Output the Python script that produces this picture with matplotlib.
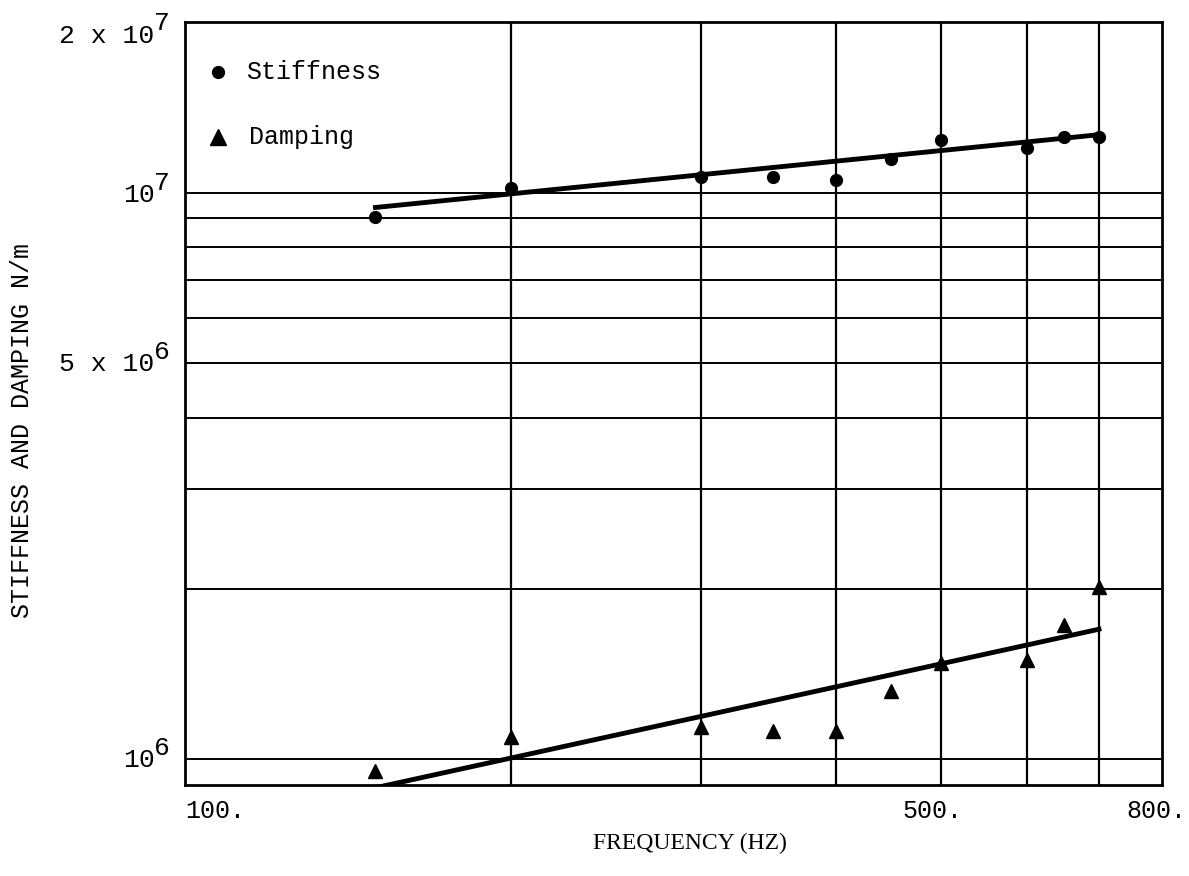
#! /usr/bin/env python3

import matplotlib
matplotlib.use("Agg")
import matplotlib.pyplot as plt
import matplotlib.transforms as mtransforms

plt.rcParams['font.family'] = ['Liberation Mono', 'DejaVu Sans Mono']

# measured frequencies (Hz)
freq = [150, 200, 300, 350, 400, 450, 500, 600, 650, 700]

# stiffness and damping coefficients (N/m)
stiffness = [0.904e7, 1.02e7, 1.067e7, 1.063e7, 1.054e7,
             1.144e7, 1.24e7, 1.196e7, 1.255e7, 1.255e7]
damping = [0.952e6, 1.093e6, 1.14e6, 1.122e6, 1.12e6,
           1.318e6, 1.477e6, 1.495e6, 1.723e6, 2.01e6]

# straight-line fits (end points on log-log paper)
fit_freq = [150, 700]
stiff_fit = [0.941e7, 1.265e7]
damp_fit = [0.89e6, 1.695e6]

grid_x = [200, 300, 400, 500, 600, 700]
grid_y = [1e6, 2e6, 3e6, 4e6, 5e6, 6e6, 7e6, 8e6, 9e6, 1e7]

xtick_vals = [100, 500, 800]
xtick_text = ['100.', '500.', '800.']
ytick_vals = [1e6, 5e6, 1e7, 2e7]
ytick_base = ['10', '5 x 10', '10', '2 x 10']
ytick_exp = ['6', '6', '7', '7']

fig = plt.figure(figsize=(11.89, 8.76), dpi=100)
ax = fig.add_axes([0.1556, 0.1039, 0.8214, 0.871])
ax.set_xscale('log')
ax.set_yscale('log')
ax.set_xlim(100, 800)
ax.set_ylim(9e5, 2e7)

for gx in grid_x:
    ax.axvline(gx, color='black', lw=1.6, zorder=1)
for gy in grid_y:
    ax.axhline(gy, color='black', lw=1.4, zorder=1)

ax.plot(fit_freq, stiff_fit, color='black', lw=3.5, zorder=2)
ax.plot(fit_freq, damp_fit, color='black', lw=3.5, zorder=2)

ax.plot(freq, stiffness, 'o', color='black', ms=8.5, zorder=3)
ax.plot(freq, damping, '^', color='black', ms=10, zorder=3)

# key in the upper left corner
ax.plot([0.034], [0.934], 'o', color='black', ms=8.5, transform=ax.transAxes)
ax.plot([0.034], [0.849], '^', color='black', ms=12, transform=ax.transAxes)
ax.text(0.063, 0.934, 'Stiffness', fontsize=18, va='center', transform=ax.transAxes)
ax.text(0.066, 0.849, 'Damping', fontsize=18, va='center', transform=ax.transAxes)

ax.minorticks_off()
ax.set_xticks(xtick_vals)
ax.set_xticklabels(xtick_text)
ax.set_yticks(ytick_vals)
ax.set_yticklabels([])
ax.tick_params(axis='both', length=0, labelsize=18)
ax.tick_params(axis='x', pad=10)

# nudge the frequency labels sideways
shifts = [0, -9, -5]
xl = ax.get_xticklabels()
xl[0].set_ha('left')
for lab, dx in zip(xl, shifts):
    lab.set_transform(lab.get_transform() +
                      mtransforms.ScaledTranslation(dx / 100, 0, fig.dpi_scale_trans))

# powers of ten written out with a raised exponent
ydrop = [-1, -1, -2, -10]
for val, base, ex, dy in zip(ytick_vals, ytick_base, ytick_exp, ydrop):
    ax.annotate(base, xy=(0, val), xycoords=('axes fraction', 'data'),
                xytext=(-22, dy), textcoords='offset points',
                ha='right', va='center', fontsize=19, annotation_clip=False)
    ax.annotate(ex, xy=(0, val), xycoords=('axes fraction', 'data'),
                xytext=(-22, dy + 9), textcoords='offset points',
                ha='left', va='center', fontsize=19, annotation_clip=False)

for s in ax.spines.values():
    s.set_linewidth(2.0)

ax.set_xlabel('FREQUENCY (HZ)', fontsize=17, family='Liberation Serif', va='center')
ax.xaxis.set_label_coords(0.517, -0.076)
ax.set_ylabel('STIFFNESS AND DAMPING N/m', fontsize=18, va='center')
ax.yaxis.set_label_coords(-0.167, 0.465)

fig.savefig('out.png', dpi=100)
